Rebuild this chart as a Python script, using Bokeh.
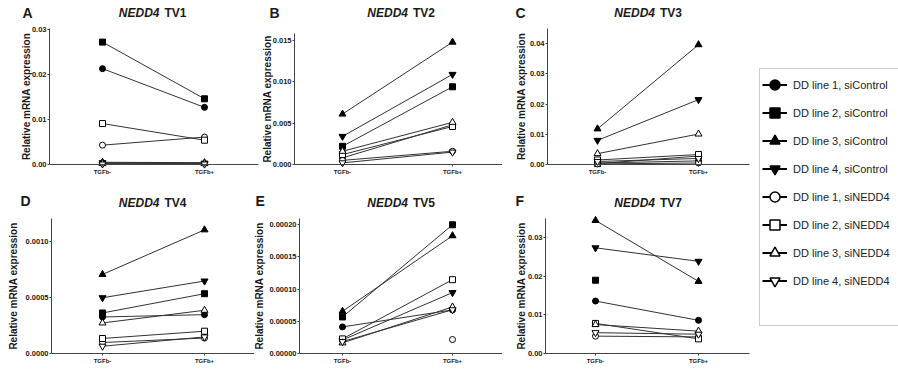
from bokeh.plotting import figure
from bokeh.models import (Range1d, FixedTicker, PrintfTickFormatter, Label,
                          Legend, LegendItem, ColumnDataSource, LinearAxis,
                          BoxAnnotation)
from bokeh.layouts import row, column
from bokeh.embed import file_html
from bokeh.resources import INLINE

nan = float("nan")

# ---------------- data ----------------
conditions = ["TGFb-", "TGFb+"]
series_names = ["DD line 1, siControl", "DD line 2, siControl",
                "DD line 3, siControl", "DD line 4, siControl",
                "DD line 1, siNEDD4", "DD line 2, siNEDD4",
                "DD line 3, siNEDD4", "DD line 4, siNEDD4"]
series_markers = ["circle", "square", "triangle", "inverted_triangle"] * 2
series_filled = [True, True, True, True, False, False, False, False]

panel_letters = ["A", "B", "C", "D", "E", "F"]
panel_genes = ["NEDD4"] * 6
panel_variants = ["TV1", "TV2", "TV3", "TV4", "TV5", "TV7"]

tv1_minus = [0.0213, 0.0272, 0.0005, 0.0004, 0.0043, 0.0091, 0.0002, 0.0001]
tv1_plus = [0.0127, 0.0146, 0.0004, 0.0003, 0.0061, 0.0054, 0.0002, 0.0001]
tv1_ticks = [0.0, 0.01, 0.02, 0.03]

tv2_minus = [0.0008, 0.0022, 0.0061, 0.0034, 0.0005, 0.0012, 0.0016, 0.0002]
tv2_plus = [0.0048, 0.0094, 0.0148, 0.0109, 0.0016, 0.0046, 0.0051, 0.0015]
tv2_ticks = [0.0, 0.005, 0.010, 0.015]

tv3_minus = [0.0005, 0.0003, 0.0118, 0.0080, 0.0002, 0.0015, 0.0036, 0.0010]
tv3_plus = [0.0012, 0.0028, 0.0397, 0.0215, 0.0005, 0.0033, 0.0101, 0.0020]
tv3_ticks = [0.0, 0.01, 0.02, 0.03, 0.04]

tv4_minus = [0.000326, 0.000362, 0.000706, 0.000498, 0.000098, 0.000134, 0.000273, 0.000065]
tv4_plus = [0.000347, 0.000534, 0.001104, 0.000647, 0.000138, 0.000199, 0.000386, 0.000148]
tv4_ticks = [0.0, 0.0005, 0.0010]

tv5_minus = [0.0000413, 0.0000568, 0.0000656, 0.0000210, nan, 0.0000227, 0.0000165, 0.0000185]
tv5_plus = [0.0000677, 0.0002000, 0.0001830, 0.0000946, 0.0000217, 0.0001147, 0.0000723, 0.0000680]
tv5_ticks = [0.0, 0.00005, 0.00010, 0.00015, 0.00020]

tv7_minus = [0.0136, 0.0190, 0.0345, 0.0274, 0.0045, 0.0078, 0.0075, 0.0054]
tv7_plus = [0.0086, nan, 0.0187, 0.0239, 0.0043, 0.0038, 0.0058, 0.0050]
tv7_ticks = [0.0, 0.01, 0.02, 0.03]

panel_minus = [tv1_minus, tv2_minus, tv3_minus, tv4_minus, tv5_minus, tv7_minus]
panel_plus = [tv1_plus, tv2_plus, tv3_plus, tv4_plus, tv5_plus, tv7_plus]
panel_ticks = [tv1_ticks, tv2_ticks, tv3_ticks, tv4_ticks, tv5_ticks, tv7_ticks]
panel_decimals = [2, 3, 2, 4, 5, 2]

# ---------------- layout (page pixel coordinates) ----------------
ROWS = [(0, 180), (180, 191)]
layout = [
    # fig_left, width, axis_x, axis_top, top_tick_px, zero_px, x0px, x1px, xaxis_end,
    # title_cx, title_y, letter_x, letter_y, row, axis_label_standoff
    (0, 262, 49, 28, 29.0, 164, 102, 204, 258, 152.5, 12.5, 22, 12.5, 0, -3),
    (262, 240, 294, 33, 40.0, 164, 342, 452, 502, 401, 12.5, 269, 12.5, 0, -3),
    (502, 250, 547, 28, 43.3, 164, 597, 698, 749, 648, 12.5, 515, 12.5, 0, 0),
    (0, 254, 51, 218, 241.0, 353, 102, 204, 254, 152.5, 202, 20, 200, 1, 4),
    (254, 248, 299, 218, 224.3, 353, 342, 452, 502, 401, 202, 255, 200, 1, 1),
    (502, 250, 545, 218, 237.3, 353, 595, 698, 749, 648, 202, 515, 200, 1, -2),
]

FONT = "Liberation Sans"
LINE_COLOR = "#333333"
AXIS_COLOR = "#444444"
TEXT_COLOR = "#1a1a1a"
MARKER_SIZE = {"circle": 6, "square": 6, "triangle": 7, "inverted_triangle": 7}

xs = list(range(len(conditions)))

figs = []
first_sources = []
for k in range(6):
    (fl, w, ax_x, ax_top, tick_px, zero_px, x0, x1, xend, tcx, ty, lx, ly, r, lab_so) = layout[k]
    rt, rh = ROWS[r]
    ppu = x1 - x0
    ppy = (zero_px - tick_px) / max(panel_ticks[k])
    x_start = (fl - x0) / ppu
    x_end = (fl + w - x0) / ppu
    y_start = -(rt + rh - zero_px) / ppy
    y_end = (zero_px - rt) / ppy
    p = figure(width=w, height=rh, output_backend="svg", toolbar_location=None,
               x_range=Range1d(x_start, x_end), y_range=Range1d(y_start, y_end),
               x_axis_location=None, y_axis_location=None,
               min_border=0)
    p.outline_line_color = None
    p.grid.visible = False
    p.background_fill_color = "white"
    p.border_fill_color = "white"

    ax_xval = (ax_x - x0) / ppu

    # x axis
    xa = LinearAxis(fixed_location=0, bounds=(ax_xval, (xend - x0) / ppu))
    xa.ticker = FixedTicker(ticks=xs)
    xa.major_label_overrides = {i: c for i, c in enumerate(conditions)}
    xa.major_label_text_font = FONT
    xa.major_label_text_font_style = "bold"
    xa.major_label_text_font_size = "6px"
    xa.major_label_text_color = TEXT_COLOR
    xa.major_tick_out = 2
    xa.major_tick_in = 0
    xa.major_label_standoff = 2
    xa.minor_tick_line_color = None
    xa.axis_line_color = AXIS_COLOR
    xa.major_tick_line_color = AXIS_COLOR
    p.add_layout(xa, "below")

    # y axis
    ya = LinearAxis(fixed_location=ax_xval, bounds=(0, (zero_px - ax_top) / ppy))
    ya.ticker = FixedTicker(ticks=panel_ticks[k])
    ya.formatter = PrintfTickFormatter(format="%%.%df" % panel_decimals[k])
    ya.major_label_text_font = FONT
    ya.major_label_text_font_style = "bold"
    ya.major_label_text_font_size = "7.5px"
    ya.major_label_text_color = TEXT_COLOR
    ya.major_tick_out = 2
    ya.major_tick_in = 0
    ya.major_label_standoff = 1
    ya.minor_tick_line_color = None
    ya.axis_line_color = AXIS_COLOR
    ya.major_tick_line_color = AXIS_COLOR
    ya.axis_label = "Relative mRNA expression"
    ya.axis_label_text_font = FONT
    ya.axis_label_text_font_style = "bold"
    ya.axis_label_text_font_size = "10px"
    ya.axis_label_text_color = TEXT_COLOR
    ya.axis_label_standoff = lab_so
    p.add_layout(ya, "left")

    sources = []
    for i in range(len(series_names)):
        src = ColumnDataSource(dict(x=xs, y=[panel_minus[k][i], panel_plus[k][i]]))
        sources.append(src)
        p.line("x", "y", source=src, line_color=LINE_COLOR, line_width=1)
    for i in range(len(series_names)):
        m = series_markers[i]
        p.scatter("x", "y", source=sources[i], marker=m, size=MARKER_SIZE[m],
                  fill_color="black" if series_filled[i] else "white",
                  line_color="black", line_width=1)
    if k == 0:
        first_sources = sources

    # titles and panel letter (screen units, relative to the figure frame)
    sx = tcx - fl
    sy = rt + rh - ty
    p.add_layout(Label(x=sx + 6.5, y=sy, x_units="screen", y_units="screen",
                       text=panel_genes[k], text_font=FONT, text_font_style="bold italic",
                       text_font_size="12px", text_align="right", text_baseline="middle",
                       text_color=TEXT_COLOR))
    p.add_layout(Label(x=sx + 11.5, y=sy, x_units="screen", y_units="screen",
                       text=panel_variants[k], text_font=FONT, text_font_style="bold",
                       text_font_size="12px", text_align="left", text_baseline="middle",
                       text_color=TEXT_COLOR))
    p.add_layout(Label(x=lx - fl, y=rt + rh - ly, x_units="screen", y_units="screen",
                       text=panel_letters[k], text_font=FONT, text_font_style="bold",
                       text_font_size="14px", text_align="left", text_baseline="middle",
                       text_color=TEXT_COLOR))
    figs.append(p)

# ---------------- legend figure ----------------
LG_LEFT, LG_W, LG_H = 752, 146, 371
BOX_LEFT, BOX_TOP, BOX_BOTTOM = 759, 68, 325
lg = figure(width=LG_W, height=LG_H, output_backend="svg", toolbar_location=None,
            x_range=Range1d(10, 11), y_range=Range1d(10, 11),
            x_axis_location=None, y_axis_location=None, min_border=0)
lg.grid.visible = False
lg.outline_line_color = None
lg.border_fill_color = "white"
lg.background_fill_color = "white"

lg.add_layout(BoxAnnotation(left=BOX_LEFT - LG_LEFT, right=LG_W + 10,
                            top=LG_H - BOX_TOP, bottom=LG_H - BOX_BOTTOM,
                            left_units="screen", right_units="screen",
                            top_units="screen", bottom_units="screen",
                            fill_alpha=0, line_color="#555555", line_width=1))

items = []
for i, name in enumerate(series_names):
    src = first_sources[i]
    lr = lg.line("x", "y", source=src, line_color="black", line_width=2)
    sr = lg.scatter("x", "y", source=src, marker=series_markers[i],
                    fill_color="black" if series_filled[i] else "white",
                    line_color="black", line_width=1.5)
    items.append(LegendItem(label=name, renderers=[lr, sr]))

legend = Legend(items=items, location=(10, 78), padding=0, margin=0,
                glyph_width=25, glyph_height=25, label_height=25, spacing=3,
                label_standoff=6, label_text_font=FONT, label_text_font_size="11px",
                label_text_color="#222222", border_line_alpha=0,
                background_fill_alpha=0)
lg.add_layout(legend, "center")

grid = row(column(row(figs[0], figs[1], figs[2]), row(figs[3], figs[4], figs[5])), lg)

open("out.html", "w").write(file_html(grid, INLINE))
